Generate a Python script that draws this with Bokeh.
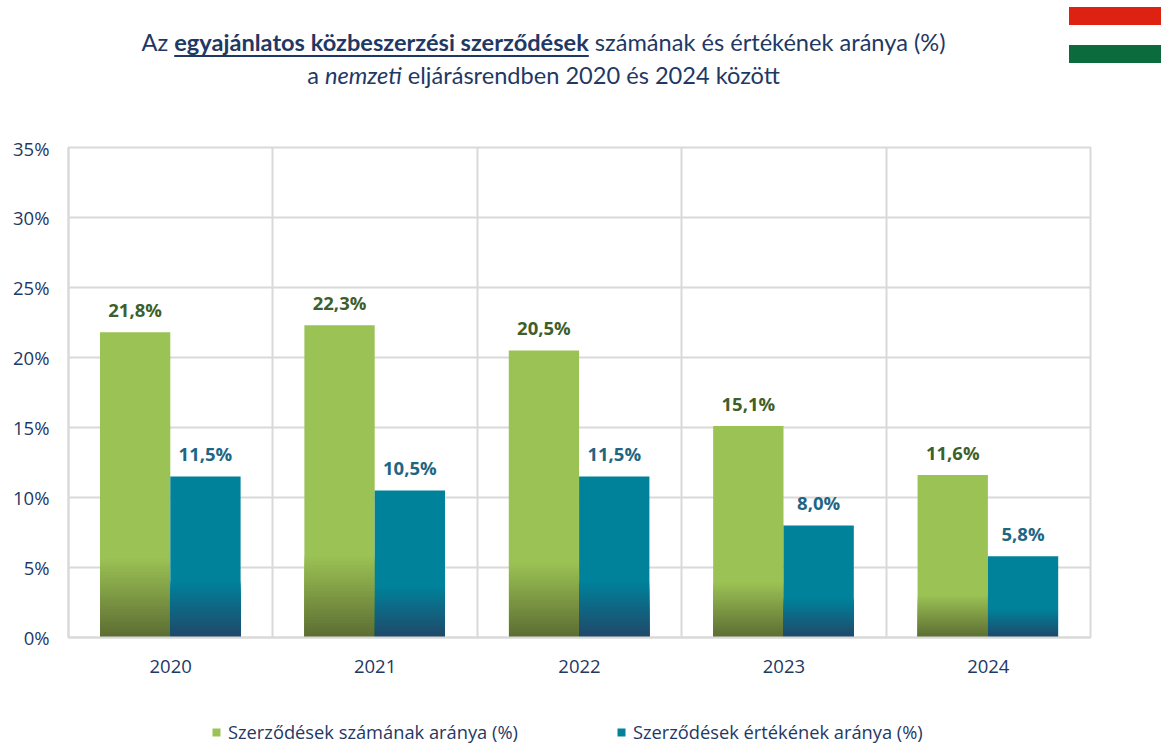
from bokeh.plotting import figure
from bokeh.layouts import column
from bokeh.models import (Range1d, FixedTicker, ColumnDataSource, Div,
                          Legend, LegendItem, CustomJSTickFormatter)
from bokeh.core.properties import value
from bokeh.embed import file_html
from bokeh.resources import INLINE

years = ["2020", "2021", "2022", "2023", "2024"]
count_share = [21.8, 22.3, 20.5, 15.1, 11.6]
value_share = [11.5, 10.5, 11.5, 8.0, 5.8]
count_name = "Szerződések számának aránya (%)"
value_name = "Szerződések értékének aránya (%)"
y_ticks = [0, 5, 10, 15, 20, 25, 30, 35]

NAVY = "#1F3864"
GRID = "#D9D9D9"
FONT = "Open Sans"
TFONT = "Lato"
HEAD_H = 135
FOOT_H = 29
GREEN = (155, 194, 84)
TEAL = (0, 130, 155)
W = 1161
H = 744

stripe = "position:absolute;left:1069px;width:92px;"
header_html = f"""
<div style="position:relative;width:{W}px;height:{HEAD_H}px;overflow:hidden;">
<div style="position:absolute;left:0;top:26px;width:1087px;text-align:center;white-space:nowrap;
font-family:'{TFONT}';font-size:23.6px;line-height:33px;color:{NAVY};">
Az <b style="text-decoration:underline;text-decoration-thickness:2px;text-underline-offset:4px;">egyajánlatos közbeszerzési szerződések</b> számának és értékének aránya (%)<br>
a <i>nemzeti</i> eljárásrendben 2020 és 2024 között</div>
<div style="{stripe}top:7px;height:18px;background:#DD2211;"></div>
<div style="{stripe}top:25px;height:20px;background:#FFFFFF;"></div>
<div style="{stripe}top:45px;height:18px;background:#0B6B3C;"></div>
</div>"""
head = Div(text=header_html, width=W, height=HEAD_H, margin=0)

p = figure(width=W, height=H - HEAD_H - FOOT_H, output_backend="svg", toolbar_location=None,
           x_range=Range1d(0, 5), y_range=Range1d(0, 35),
           min_border_left=68, min_border_right=71, min_border_top=147 - HEAD_H, min_border_bottom=78,
           background_fill_color="white", border_fill_color="white", margin=0)
p.outline_line_color = GRID
p.outline_line_width = 2

p.xaxis.ticker = FixedTicker(ticks=[i + 0.5 for i in range(len(years))])
p.xaxis.major_label_overrides = {i + 0.5: y for i, y in enumerate(years)}
p.xaxis.major_tick_line_color = None
p.xaxis.minor_tick_line_color = None
p.xaxis.axis_line_color = GRID
p.xaxis.axis_line_width = 2
p.xaxis.major_label_standoff = 16
p.xaxis.major_label_text_font = FONT
p.xaxis.major_label_text_font_size = "18.5px"
p.xaxis.major_label_text_color = NAVY

p.yaxis.ticker = FixedTicker(ticks=y_ticks)
p.yaxis.formatter = CustomJSTickFormatter(code="return tick + '%';")
p.yaxis.major_tick_line_color = None
p.yaxis.minor_tick_line_color = None
p.yaxis.axis_line_color = GRID
p.yaxis.axis_line_width = 2
p.yaxis.major_label_standoff = 13
p.yaxis.major_label_text_font = FONT
p.yaxis.major_label_text_font_size = "18.5px"
p.yaxis.major_label_text_color = NAVY

p.xgrid.ticker = FixedTicker(ticks=list(range(len(years) + 1)))
p.xgrid.grid_line_color = GRID
p.xgrid.grid_line_width = 2
p.ygrid.ticker = FixedTicker(ticks=y_ticks)
p.ygrid.grid_line_color = GRID
p.ygrid.grid_line_width = 2

BAR_W = 0.344
STEPS = 28


def mix(a, b, t):
    return "#%02x%02x%02x" % tuple(round(a[k] + (b[k] - a[k]) * t) for k in range(3))


def bars(vals, offset, top_rgb, bottom_rgb, frac):
    xs = [i + 0.5 + offset for i in range(len(vals))]
    p.vbar(x=xs, width=BAR_W, bottom=0, top=vals, fill_color=mix(top_rgb, top_rgb, 0), line_color=None)
    g = dict(x=[], bottom=[], top=[], color=[])
    for x, v in zip(xs, vals):
        for s in range(STEPS, 0, -1):
            g["x"].append(x)
            g["bottom"].append(0)
            g["top"].append(v * frac * s / STEPS)
            g["color"].append(mix(bottom_rgb, top_rgb, (s - 0.5) / STEPS))
    # slightly narrower than the solid bar, so stacked antialiased edges do not widen the bar
    p.vbar(x="x", width=BAR_W - 0.003, bottom="bottom", top="top", fill_color="color", line_color=None,
           source=ColumnDataSource(g))
    return xs


x1 = bars(count_share, -BAR_W / 2 - 0.002, GREEN, (92, 108, 50), 0.26)
x2 = bars(value_share, BAR_W / 2 - 0.002, TEAL, (32, 72, 105), 0.35)

fmt = lambda v: f"{v:.1f}%".replace(".", ",")
for xs, vals, col in ((x1, count_share, "#3F5F2A"), (x2, value_share, "#1F6683")):
    p.text(x=xs, y=vals, text=[fmt(v) for v in vals], y_offset=-23, text_align="center",
           text_baseline="middle", text_font=value(FONT), text_font_size="18.5px",
           text_font_style="bold", text_color=col)

foot = figure(width=W, height=FOOT_H, output_backend="svg", toolbar_location=None,
              x_range=Range1d(0, 5), y_range=Range1d(0, 1), x_axis_location=None, y_axis_location=None,
              min_border=0, min_border_left=68, min_border_right=71, outline_line_color=None, margin=0)
foot.grid.visible = False
# Legend keys only: NaN positions draw nothing, only the legend swatches show.
k1 = foot.vbar(x=[float("nan")], width=0.1, top=[float("nan")], fill_color=mix(GREEN, GREEN, 0), line_color=None)
k2 = foot.vbar(x=[float("nan")], width=0.1, top=[float("nan")], fill_color=mix(TEAL, TEAL, 0), line_color=None)
legend = Legend(items=[LegendItem(label=count_name, renderers=[k1]),
                       LegendItem(label=value_name, renderers=[k2])],
                orientation="horizontal", location=(143, 0), border_line_color=None,
                background_fill_alpha=0, glyph_width=10, glyph_height=10, label_standoff=7,
                spacing=98, margin=0, padding=0, label_text_font=FONT,
                label_text_font_size="18.3px", label_text_color=NAVY)
foot.add_layout(legend, "center")

open("out.html", "w").write(file_html(column(head, p, foot, spacing=0), INLINE))
